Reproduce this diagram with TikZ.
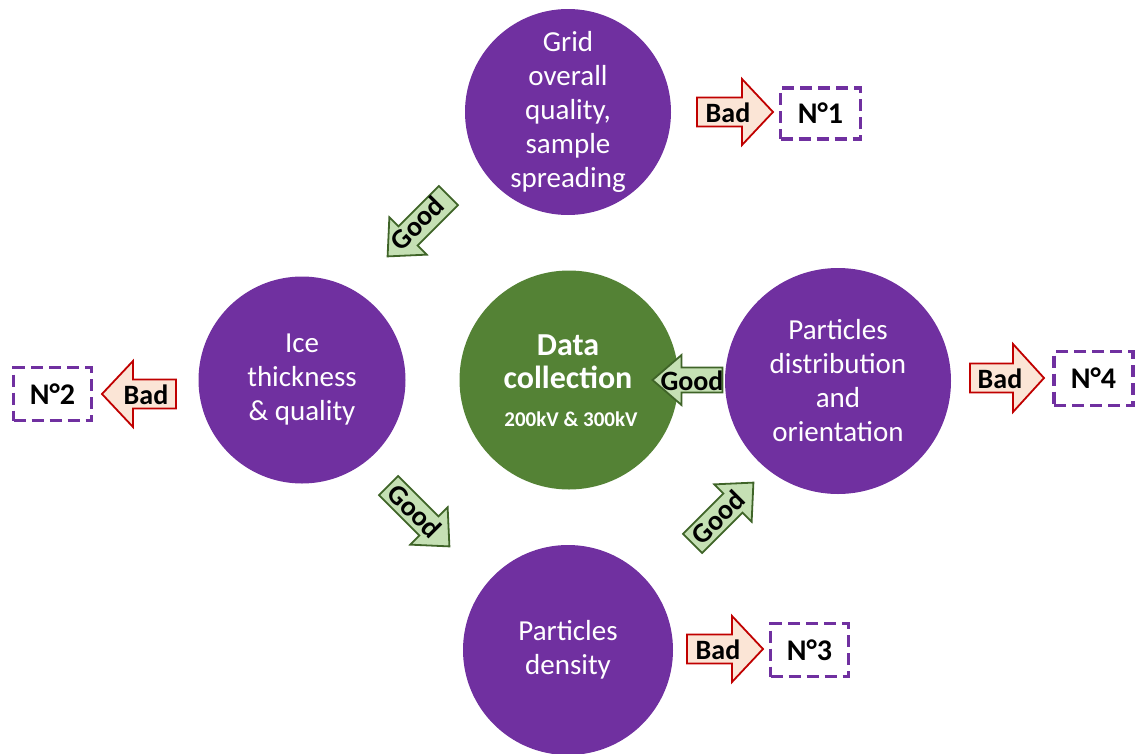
\documentclass[tikz,border=0pt]{standalone}
\usepackage{fontspec}
\setmainfont{Carlito}
\definecolor{purp}{HTML}{7030A0}
\definecolor{dgreen}{HTML}{548235}
\definecolor{goodfill}{HTML}{C5E0B4}
\definecolor{goodline}{HTML}{3F6428}
\definecolor{badfill}{HTML}{FBE5D6}
\definecolor{badline}{HTML}{C00000}
\newcommand{\blockarr}[7]{%
  \begin{scope}[shift={#2}, rotate=#3]
    \draw[#1] ({-#4/2},{-#5}) -- ({#4/2-#7},{-#5}) -- ({#4/2-#7},{-#6}) -- ({#4/2},0)
      -- ({#4/2-#7},{#6}) -- ({#4/2-#7},{#5}) -- ({-#4/2},{#5}) -- cycle;
  \end{scope}}
\tikzset{
  circ/.style={circle, fill=purp, text=white, align=center, inner sep=0pt,
    font=\fontsize{29}{34}\selectfont},
  gcirc/.style={circle, fill=dgreen, text=white, align=center, inner sep=0pt},
  goodshape/.style={fill=goodfill, draw=goodline, line width=1.8pt, line join=miter},
  badshape/.style={fill=badfill, draw=badline, line width=1.8pt, line join=miter},
  arrtxt/.style={font=\fontsize{28}{30}\bfseries\selectfont, inner sep=0pt, text=black},
  nbox/.style={draw=purp, line width=3.2pt, dash pattern=on 12pt off 6pt,
    font=\fontsize{30}{32}\bfseries\selectfont, inner sep=0pt, fill=white}
}
\begin{document}
\begin{tikzpicture}[x=1pt,y=-1pt]
\useasboundingbox (0,0) rectangle (1136,753);
\clip (0,0) rectangle (1136,753);

% circles
\node[circ, minimum size=206pt] (grid) at (568,112) {Grid\\overall\\quality,\\sample\\spreading};
\node[circ, minimum size=207pt] (ice) at (302,380) {Ice\\thickness\\\& quality};
\node[gcirc, minimum size=219pt] (data) at (569,380) {};
\node[text=white, align=center, inner sep=0pt, font=\fontsize{32}{33}\bfseries\selectfont]
  (dtitle) at (568,362) {Data\\collection};
\node[text=white, inner sep=0pt, font=\fontsize{21}{24}\bfseries\selectfont]
  (dsub) at (571,419) {200kV \& 300kV};
\node[circ, minimum size=226pt] (part) at (838,381) {Particles\\distribution\\and\\orientation};
\node[circ, minimum size=210pt] (dens) at (568,650) {Particles\\density};

% Good arrows
\blockarr{goodshape}{(418,226)}{225}{86}{13.5}{26.5}{29}
\node[arrtxt, rotate=45] (g1) at (417,223) {Good};
\blockarr{goodshape}{(419,516)}{-45}{86}{13.5}{26.5}{29}
\node[arrtxt, rotate=-45] (g2) at (415,511) {Good};
\blockarr{goodshape}{(723,513)}{45}{86}{13.5}{26.5}{29}
\node[arrtxt, rotate=45] (g3) at (718,517) {Good};
\blockarr{goodshape}{(687.5,380)}{180}{70}{12.5}{25}{29}
\node[arrtxt] (g4) at (692,381) {Good};

% Bad arrows
\blockarr{badshape}{(735,112)}{0}{76}{14.5}{33}{31}
\node[arrtxt] (b1) at (728,113) {Bad};
\blockarr{badshape}{(139,394)}{180}{74}{14.5}{33}{31}
\node[arrtxt] (b2) at (146,395) {Bad};
\blockarr{badshape}{(1007,378)}{0}{74}{14.5}{34}{31}
\node[arrtxt] (b4) at (1000,379) {Bad};
\blockarr{badshape}{(725,649)}{0}{76}{14.5}{33}{31}
\node[arrtxt] (b3) at (718,650) {Bad};

% boxes
\node[nbox, minimum width=80pt, minimum height=51pt] (n1) at (820.5,113.5) {N°1};
\node[nbox, minimum width=78pt, minimum height=53pt] (n2) at (52.5,394) {N°2};
\node[nbox, minimum width=79pt, minimum height=54pt] (n4) at (1093.5,378.5) {N°4};
\node[nbox, minimum width=78pt, minimum height=53pt] (n3) at (809.5,650) {N°3};
\end{tikzpicture}
\end{document}
